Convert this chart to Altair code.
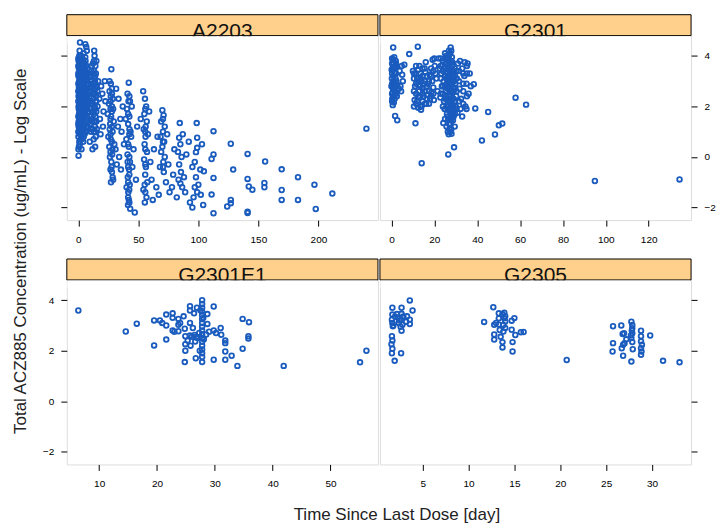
import altair as alt
import pandas as pd

# ---------------- data ----------------
panel_names = ["A2203", "G2301", "G2301E1", "G2305"]

a2203_pts = [
    (0.2,0.05),(0.5,0.4),(0.1,0.8),(0.8,1.1),(0.3,1.4),(0.6,1.7),(0.2,2.0),(0.9,2.3),(0.4,2.6),(0.7,2.9),(0.1,3.2),(0.5,3.5),(0.3,3.8),(0.8,4.0),(1.4,4.53),
    (1.2,0.5),(1.8,0.9),(1.4,1.3),(2.0,1.6),(1.6,1.9),(2.2,2.2),(1.3,2.5),(1.9,2.8),(1.5,3.1),(2.1,3.4),(1.7,3.7),(2.3,4.0),(1.1,4.2),
    (2.6,0.3),(3.0,0.7),(2.8,1.0),(3.3,1.5),(2.7,1.8),(3.1,2.1),(3.5,2.4),(2.9,2.7),(3.4,3.0),(3.0,3.3),(3.6,3.6),(2.8,3.9),
    (4.0,0.6),(4.3,1.2),(3.9,1.8),(4.5,2.0),(4.1,2.6),(4.6,2.9),(4.2,3.2),(4.7,3.5),(4.0,3.8),(4.4,4.1),(5.8,4.46),
    (5.2,0.9),(5.6,1.4),(5.0,1.7),(5.5,2.2),(5.9,2.5),(5.3,2.8),(5.7,3.1),(5.1,3.4),(5.4,3.7),(5.8,3.95),
    (6.5,1.0),(6.9,1.5),(6.3,2.0),(7.0,2.3),(6.6,2.7),(7.2,3.0),(6.4,3.3),(6.8,3.6),(7.1,4.2),(6.6,4.35),
    (7.8,1.2),(8.2,1.8),(7.6,2.4),(8.0,2.9),(8.4,3.3),(7.9,3.5),
    (0.4,1.9),(0.9,2.5),(1.2,2.8),(1.8,3.2),(2.5,2.0),(0.6,3.0),(1.0,1.5),(2.4,2.6),(3.2,2.9),(0.2,2.4),(1.6,2.2),(0.7,3.6),(1.3,3.4),
    (2.0,3.0),(3.7,1.6),(4.8,2.4),(0.3,1.2),(1.4,0.9),(0.1,0.3),(2.2,1.3),(3.8,2.2),(0.5,2.75),(1.1,3.9),(2.6,3.5),(0.8,0.6),(3.3,3.7),
    (4.9,3.0),(6.0,1.9),(0.0,2.2),(0.0,3.6),(1.7,2.45),(2.9,2.35),(4.4,2.7),
    (9.5,0.6),(10.5,1.0),(11.2,1.4),(12.0,1.8),(10.0,2.2),(11.5,2.5),(12.5,2.8),(13.3,3.1),(10.8,3.4),(12.2,3.7),(13.5,4.0),(13.2,4.2),
    (14.0,0.4),(14.5,0.8),(13.8,1.2),(14.3,1.6),(13.6,2.0),(14.8,2.4),(14.1,2.7),(13.9,3.0),(14.6,3.3),(14.2,3.6),(15.5,1.1),(16.0,2.0),
    (15.8,2.6),(16.5,3.0),(17.5,2.3),(18.0,1.5),(19.0,2.8),(18.5,0.9),(12.8,0.7),(11.0,3.0),(9.8,1.6),(10.3,2.9),(12.7,2.3),(13.0,1.4),
    (14.4,2.2),(9.2,3.2),(11.8,0.3),(15.0,3.8),
    (20.0,2.5),(21.0,1.8),(22.0,3.0),(20.5,1.2),(22.5,2.2),
    (27.5,3.47),(26.0,3.0),(28.0,2.7),(27.0,2.4),(25.5,2.1),(29.0,1.9),(27.3,1.6),(26.5,1.3),(28.5,1.0),(27.0,0.7),(25.8,0.4),(28.2,0.1),
    (27.5,-0.2),(26.8,-0.5),(28.6,-0.8),(27.2,-1.0),(25.0,0.8),(29.5,1.4),(26.0,2.6),(28.8,2.3),(24.5,1.7),(30.0,0.5),(27.7,-0.4),(26.3,0.0),
    (29.0,-0.9),(31.0,0.3),(32.0,-0.3),(33.0,1.2),(34.0,0.0),(35.5,-0.5),(36.0,1.0),(37.0,2.0),(38.0,0.5),(33.5,2.3),(35.0,1.5),(31.5,2.7),
    (27.9,1.8),(26.2,1.1),(28.4,0.3),(27.1,2.9),
    (42.0,2.94),(41.0,2.5),(43.0,2.2),(40.5,1.9),(42.5,1.6),(41.5,1.3),(43.5,1.0),(40.0,0.7),(42.0,0.4),(41.0,0.1),(43.0,-0.2),(42.3,-0.5),
    (41.2,-0.8),(42.8,-1.1),(41.6,-1.4),(42.1,-1.7),(41.4,-1.9),(43.2,-2.05),(44.0,0.8),(45.0,-0.4),(39.5,1.5),(44.5,2.0),(40.2,-1.2),(47.0,-2.2),
    (48.0,-0.9),(46.0,0.3),(49.0,1.2),(41.8,2.2),(42.6,1.1),(41.1,-0.2),(42.4,-1.3),
    (54.0,2.6),(55.5,2.3),(56.5,2.0),(55.0,1.7),(57.0,1.4),(54.5,1.1),(56.0,0.8),(55.2,0.5),(57.2,0.2),(54.8,-0.1),(56.3,-0.4),(55.7,-0.7),
    (57.5,-1.0),(54.2,-1.3),(56.8,-1.6),(55.4,-1.8),(58.0,0.9),(52.0,1.5),(60.0,-0.2),(59.0,1.8),(62.0,-1.7),(63.0,0.3),(61.0,-0.9),(65.0,-1.2),
    (66.0,0.8),(56.1,1.2),(55.3,-1.1),
    (70.0,1.85),(71.0,1.65),(69.0,1.4),(72.0,1.2),(70.5,1.0),(68.5,0.8),(71.5,0.6),(70.0,0.4),(69.0,0.2),(72.0,0.0),(70.8,-0.2),(68.0,-0.4),
    (71.2,-0.6),(74.0,0.9),(75.0,-0.3),(73.0,-1.0),(76.0,-1.4),(78.0,-1.2),(80.0,0.3),(79.0,-0.7),(67.0,-1.5),
    (84.5,1.34),(84.0,0.76),(85.0,0.5),(83.0,0.2),(86.0,0.0),(84.0,-0.3),(85.5,-0.6),(83.5,-0.9),(86.5,-1.2),(85.0,-1.05),(87.0,0.9),(82.0,-1.6),
    (88.0,-0.8),(90.0,0.1),(89.0,-1.4),
    (98.6,1.34),(99.0,0.76),(99.0,0.36),(98.0,0.19),(97.0,-0.2),(101.6,-0.5),(104.6,-0.57),(98.0,-0.8),(97.0,-1.2),(99.0,-1.4),(96.0,-1.6),
    (100.0,-1.1),(95.0,-0.4),(102.0,-1.5),(103.0,0.5),(104.0,-1.9),(93.0,-1.8),(92.0,0.6),(95.0,-2.0),
    (112.6,1.02),(112.6,0.1),(111.0,-0.08),(112.6,-0.83),(111.0,-1.49),(112.6,-2.23),(127.0,0.52),(129.0,-0.5),(127.0,-1.7),(127.0,-1.83),
    (124.0,-1.96),(141.0,0.12),(141.0,-0.87),(142.0,-1.17),(145.0,-1.3),(141.0,-2.17),(141.0,-2.22),(155.6,-0.18),(155.0,-1.03),(155.0,-1.2),
    (169.4,-0.49),(169.4,-1.31),(169.4,-1.7),(183.0,-0.8),(183.0,-1.7),(196.7,-1.1),(197.8,-2.06),(211.6,-1.45),(240.0,1.12),
]

# extra samples in the densest A2203 columns: (time, [values...])
a2203_cols = [
    (0.0, [1.0, 1.3, 1.6, 2.6, 2.9, 3.3, 3.9]),
    (0.6, [1.3, 2.15, 2.45, 3.25, 3.8]),
    (1.0, [0.95, 1.8, 2.05, 3.15, 3.55]),
    (1.5, [1.1, 1.6, 2.0, 2.65, 3.25, 3.85]),
    (2.0, [0.7, 1.15, 1.95, 2.35, 2.7, 3.6]),
    (2.5, [0.9, 1.4, 1.7, 2.3, 2.9, 3.2, 3.75]),
    (3.0, [1.2, 1.9, 2.45, 3.05, 3.45]),
    (3.5, [0.95, 1.3, 2.0, 2.7, 3.25, 3.9]),
    (4.0, [1.0, 1.5, 2.3, 2.85, 3.5]),
    (4.5, [0.8, 1.6, 2.2, 3.1, 3.7]),
    (5.0, [1.2, 2.0, 2.6, 3.2]),
    (5.5, [1.0, 1.8, 2.7, 3.5]),
    (6.0, [1.3, 2.4, 3.0, 3.8]),
    (6.8, [1.2, 1.9, 2.5, 3.2]),
    (7.5, [1.6, 2.0, 2.7, 3.2]),
    (8.5, [2.2, 2.6]),
    (10.0, [1.3, 1.9, 2.6, 3.2]),
    (11.0, [1.1, 1.8, 2.2, 2.7, 3.6]),
    (12.0, [1.1, 1.5, 2.1, 2.5, 3.3]),
    (13.0, [1.0, 1.7, 2.5, 2.9, 3.4, 3.8]),
    (14.0, [1.0, 1.4, 1.9, 2.5, 2.9, 3.2]),
    (15.0, [1.4, 1.8, 2.2, 2.8]),
    (26.8, [0.2, 0.9, 1.5, 1.9, 2.2]),
    (28.0, [-0.6, 0.6, 1.2, 2.0, 2.5]),
    (41.5, [-1.6, -1.0, -0.4, 0.5, 1.7]),
    (42.5, [-1.8, -0.7, 0.0, 0.9, 2.4]),
    (55.8, [-1.4, -0.3, 0.3, 1.0, 1.9]),
    (70.5, [-0.4, 0.6, 1.5]),
]

g2301_pts = [
    (0.8,4.33),(0.3,3.9),(1.0,3.7),(0.5,3.5),(1.5,3.3),(0.2,3.1),(1.2,2.9),(0.7,2.7),(1.8,2.5),(0.4,2.3),(1.1,2.15),(2.0,3.8),(0.9,3.2),
    (1.6,3.6),(2.3,3.0),(0.6,2.55),(1.4,2.75),(2.5,2.4),(0.1,3.45),(1.9,3.1),(2.2,3.55),(0.0,2.8),(1.3,3.95),(2.7,2.85),(0.6,2.05),
    (1.7,1.62),(2.7,1.45),
    (4.2,2.8),(4.8,3.6),(5.3,3.0),(4.5,2.6),(6.0,3.65),(5.0,3.25),(3.5,2.7),(3.8,3.4),
    (8.3,4.07),(12.3,4.36),
    (10.0,3.4),(10.5,3.1),(11.0,2.8),(11.5,2.5),(12.0,2.2),(12.5,1.95),(13.0,3.6),(13.5,3.3),(14.0,3.0),(14.5,2.7),(15.0,2.4),(15.5,2.1),
    (16.0,3.75),(16.5,3.2),(17.0,2.9),(17.5,2.6),(18.0,2.3),(18.5,3.5),(19.0,3.0),(19.5,2.75),(20.0,3.9),(20.5,3.3),(12.0,3.1),(13.0,2.6),
    (14.0,2.0),(14.5,3.5),(11.5,3.3),(13.8,1.87),(15.2,2.9),(16.8,2.45),(10.8,2.25),(12.7,2.85),(17.8,3.25),(19.8,2.25),(11.2,1.33),
    (14.1,-0.25),(15.8,3.35),(13.3,2.35),(16.2,2.1),(18.6,2.55),(20.2,3.6),(19.2,3.85),
    (22.0,3.9),(22.5,3.5),(23.0,3.1),(23.5,2.8),(24.0,2.5),(24.5,2.2),(25.0,4.1),(25.5,3.7),(26.0,3.3),(26.5,3.0),(27.0,2.7),(27.5,2.4),
    (28.0,2.1),(28.5,1.8),(27.6,4.33),(26.8,4.2),(28.2,3.95),(26.2,3.6),(27.4,3.4),(28.6,3.2),(25.8,2.9),(27.2,2.6),(28.4,2.3),(26.6,2.0),
    (27.8,1.7),(26.4,1.5),(27.6,1.3),(27.0,1.1),(26.7,0.9),(28.0,0.92),(24.2,1.34),(26.5,0.1),(29.2,0.38),(27.3,2.9),(27.9,2.55),(26.9,3.75),
    (28.8,2.7),(29.5,3.5),(29.8,2.9),(30.2,2.4),(30.5,3.1),(29.0,1.6),(30.0,2.0),(31.0,3.7),(21.5,2.6),(23.2,3.3),(24.8,1.9),(25.4,2.6),
    (26.1,2.3),(27.5,1.95),(28.9,2.05),(25.9,1.7),(26.9,1.85),(27.8,3.05),(28.3,3.6),(24.3,3.0),(22.8,2.35),(23.8,3.65),(21.0,3.1),(29.5,1.2),
    (28.7,1.45),(30.8,1.75),
    (32.0,3.8),(33.0,3.5),(34.0,3.2),(35.0,2.9),(33.5,2.6),(32.5,2.3),(34.5,2.0),(35.5,3.7),(36.0,2.5),(33.0,1.6),(35.0,1.9),(36.5,3.3),
    (31.8,2.7),(34.2,3.75),(37.0,2.8),(32.2,1.9),
    (38.4,2.88),(39.1,1.92),(45.1,1.78),(42.2,0.65),(48.3,0.89),(50.1,1.25),(51.7,1.32),(57.9,2.34),(62.8,2.07),(94.9,-0.95),(134.4,-0.89),
]

# extra samples in the densest G2301 columns: (time, [values...])
g2301_cols = [
    (0.3, [2.2, 2.5, 2.9, 3.3, 3.7]),
    (0.9, [2.4, 2.75, 3.0, 3.45, 3.85]),
    (1.5, [2.3, 2.6, 2.95, 3.5]),
    (2.1, [2.5, 2.8, 3.3, 3.7]),
    (10.5, [2.0, 2.6, 3.3]),
    (11.5, [2.1, 2.9, 3.6]),
    (12.5, [2.4, 3.0, 3.45]),
    (13.5, [2.0, 2.8, 3.1]),
    (14.5, [2.2, 2.5, 3.2]),
    (15.5, [2.6, 3.0, 3.5]),
    (16.5, [2.3, 2.8]),
    (17.5, [2.1, 3.0]),
    (18.5, [2.4, 3.2]),
    (19.5, [2.5, 3.4]),
    (23.0, [2.5, 3.6, 3.9]),
    (24.0, [2.0, 2.8, 3.4, 3.8]),
    (25.0, [1.5, 2.3, 2.8, 3.2, 3.5, 3.9]),
    (25.7, [1.2, 2.0, 2.4, 3.1, 3.4, 4.0]),
    (26.3, [1.0, 1.6, 1.9, 2.7, 3.1, 3.5, 3.9]),
    (26.9, [1.3, 2.2, 2.45, 2.8, 3.2, 3.5, 4.0]),
    (27.4, [1.0, 1.5, 1.8, 2.2, 2.75, 3.1, 3.7, 4.1]),
    (27.9, [1.1, 1.45, 2.3, 2.9, 3.3, 3.8, 4.2]),
    (28.4, [1.6, 2.0, 2.6, 2.9, 3.4, 3.75]),
    (29.0, [1.9, 2.3, 2.6, 3.0, 3.3]),
    (29.6, [1.7, 2.2, 2.7, 3.2]),
    (30.4, [1.9, 2.6, 3.4]),
    (31.5, [2.2, 3.0, 3.4]),
    (33.5, [2.1, 2.9, 3.3]),
    (35.2, [2.4, 3.3, 3.6]),
]

g2301e1_pts = [
    (6.4,3.59),(14.6,2.76),(16.5,3.07),(19.5,3.2),(19.5,2.21),(20.5,3.2),(20.9,3.1),(21.6,3.43),(21.6,3.0),(21.6,2.44),(22.7,3.48),(22.7,3.3),
    (22.7,2.8),(23.7,3.26),(23.7,3.03),(23.7,2.77),
    (24.6,3.36),(24.8,2.87),(24.9,2.57),(24.9,2.26),(24.9,2.0),(24.8,1.55),
    (25.7,3.76),(25.7,3.59),(25.7,3.1),(25.7,2.6),(25.8,2.2),
    (26.4,3.48),(26.5,2.62),(26.6,2.36),(26.7,1.7),(26.2,2.9),(26.9,3.7),
    (27.8,4.0),(27.8,3.85),(27.8,3.7),(27.8,3.55),(27.8,3.4),(27.8,3.25),(27.8,3.1),(27.8,2.95),(27.8,2.8),(27.8,2.65),(27.8,2.5),(27.8,2.35),
    (27.8,2.2),(27.8,2.05),(27.8,1.9),(27.8,1.75),(27.8,1.55),(27.5,3.6),(27.3,2.7),(28.1,2.45),(27.4,2.0),(28.0,3.3),
    (28.7,3.45),(28.7,3.06),(28.5,2.64),(27.0,2.5),(26.8,2.55),
    (29.8,3.75),(29.8,1.64),(29.8,2.8),(31.0,2.9),(31.1,2.63),(30.2,2.7),
    (31.8,2.4),(31.8,2.3),(31.8,1.97),(31.8,1.64),(32.9,1.8),(33.9,1.4),(34.8,3.26),(34.8,2.08),(35.9,3.13),(35.8,2.57),(35.8,2.48),
    (41.9,1.4),(55.1,1.54),(56.2,2.0),
    (23.0,2.75),(25.3,2.4),(26.0,2.55),(24.0,3.1),(29.0,2.75),
]

g2305_pts = [
    (1.7,3.7),(1.7,3.43),(1.65,3.23),(1.7,3.1),(1.75,2.97),(1.65,2.57),(1.7,2.4),(1.6,2.26),(1.7,2.08),(1.65,1.9),(1.95,1.6),
    (2.7,3.7),(2.7,3.46),(2.65,3.23),(2.8,3.03),(2.7,2.79),(2.65,1.9),
    (2.3,3.3),(2.4,3.1),(2.2,3.45),(2.5,3.2),(2.0,3.35),(2.9,3.35),
    (3.6,3.99),(3.9,3.59),(3.6,3.23),(3.6,3.06),(3.3,3.36),(3.2,3.15),(1.8,3.0),(2.6,2.95),
    (12.7,3.72),(11.7,3.14),(12.8,3.03),(12.8,2.64),(12.8,2.44),
    (13.3,3.48),(13.3,3.28),(13.3,3.04),(13.4,2.82),(13.5,2.55),
    (13.7,3.45),(13.9,3.28),(13.8,3.02),(13.8,2.76),(13.7,2.34),(13.7,2.13),
    (14.0,3.36),(14.0,3.16),(14.0,2.9),
    (14.7,3.19),(14.7,2.83),(14.8,2.34),(14.8,1.97),(15.0,3.29),(15.1,2.62),(15.7,2.73),(16.0,2.74),(13.0,3.1),(13.9,3.5),
    (20.7,1.63),
    (25.75,2.97),(25.75,2.3),(25.7,1.97),(26.65,3.0),(26.8,2.66),(26.95,2.69),(26.85,2.24),(26.7,2.1),(26.85,1.8),
    (27.75,3.15),(27.85,3.02),(27.85,2.89),(27.85,2.69),(27.75,2.5),(27.85,2.34),(27.9,2.06),(27.75,1.57),(27.8,2.8),(27.7,2.6),
    (28.8,2.79),(28.8,2.57),(28.8,2.37),(28.9,2.24),(28.85,1.97),(28.8,1.84),(28.8,2.1),
    (29.8,2.6),(31.2,1.6),(33.0,1.54),(27.2,2.45),(27.0,2.3),
]

x_ticks = {
    "A2203": [0, 50, 100, 150, 200],
    "G2301": [0, 20, 40, 60, 80, 100, 120],
    "G2301E1": [10, 20, 30, 40, 50],
    "G2305": [5, 10, 15, 20, 25, 30],
}
y_ticks = [-2, 0, 2, 4]

x_title = "Time Since Last Dose [day]"
y_title = "Total ACZ885 Concentration (ug/mL) - Log Scale"

# ---------------- styling ----------------
W, H = 312, 185
STRIP_H = 21
STRIP_FILL = "#FFD08C"
POINT_COLOR = "#1A5BBE"
FONT = "Liberation Sans"


def expand(pts, cols):
    out = list(pts)
    for x, ys in cols:
        out.extend((x, y) for y in ys)
    return out


def extend(vals):
    lo, hi = min(vals), max(vals)
    d = (hi - lo) * 0.04
    return [lo - d, hi + d]


panel_data = {
    "A2203": expand(a2203_pts, a2203_cols),
    "G2301": expand(g2301_pts, g2301_cols),
    "G2301E1": list(g2301e1_pts),
    "G2305": list(g2305_pts),
}

all_y = [p[1] for pts in panel_data.values() for p in pts]
Y_DOMAIN = extend(all_y)


def panel(name, y_orient, y_labels):
    df = pd.DataFrame(panel_data[name], columns=["x", "y"])
    one = pd.DataFrame({"k": [0]})
    strip = alt.Chart(one).mark_rect(fill=STRIP_FILL, stroke="black", strokeWidth=1).encode(
        x=alt.value(0), x2=alt.value(W), y=alt.value(-STRIP_H), y2=alt.value(0)
    )
    label = alt.Chart(one).mark_text(
        font=FONT, fontSize=21, baseline="alphabetic", align="center", color="#111111"
    ).encode(x=alt.value(W / 2), y=alt.value(2), text=alt.value(name))
    cover = alt.Chart(one).mark_rect(fill="white").encode(
        x=alt.value(0.6), x2=alt.value(W - 0.6), y=alt.value(0.6), y2=alt.value(8)
    )
    xaxis = alt.Axis(
        values=x_ticks[name], title=None, grid=False, domain=False, tickSize=6,
        tickColor="black", labelPadding=8, labelFont=FONT, labelFontSize=10,
        labelColor="black", labelFlush=False,
    )
    yaxis = alt.Axis(
        values=y_ticks, title=None, grid=False, domain=False, tickSize=6,
        tickColor="black", labelPadding=7, labelFont=FONT, labelFontSize=10,
        labelColor="black", orient=y_orient, labelOpacity=1 if y_labels else 0,
    )
    points = alt.Chart(df).mark_point(
        shape="circle", filled=False, size=22, strokeWidth=1.8, color=POINT_COLOR, opacity=1
    ).encode(
        x=alt.X("x:Q", scale=alt.Scale(domain=extend(df["x"].tolist()), nice=False, zero=False), axis=xaxis),
        y=alt.Y("y:Q", scale=alt.Scale(domain=Y_DOMAIN, nice=False, zero=False), axis=yaxis),
    )
    return alt.layer(strip, label, cover, points).properties(width=W, height=H)


p1 = panel("A2203", "left", False)
p2 = panel("G2301", "right", True)
p3 = panel("G2301E1", "left", True)
p4 = panel("G2305", "right", False)

row1 = alt.hconcat(p1, p2, spacing=0)
row2 = alt.hconcat(p3, p4, spacing=0)

grid = alt.vconcat(
    row1, row2, spacing=13,
    title=alt.TitleParams(
        y_title, orient="left", font=FONT, fontSize=17, fontWeight="normal",
        color="#222222", offset=12, anchor="middle",
    ),
)

chart = alt.hconcat(
    grid, spacing=0,
    title=alt.TitleParams(
        x_title, orient="bottom", font=FONT, fontSize=17, fontWeight="normal",
        color="#222222", offset=18, anchor="middle", dx=33,
    ),
).properties(
    padding={"left": 12, "top": 13, "right": 0, "bottom": 2}
).configure_view(
    stroke="black", strokeWidth=1
).configure(background="white")

chart.save("out.html", embed_options={"renderer": "svg", "actions": False})
